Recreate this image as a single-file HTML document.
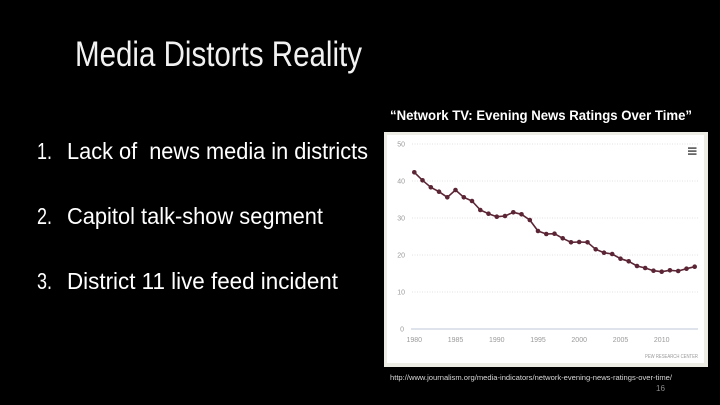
<!DOCTYPE html>
<html>
<head>
<meta charset="utf-8">
<style>
html,body{margin:0;padding:0;background:#000;}
body{width:720px;height:405px;overflow:hidden;}
svg{display:block;}
text{font-family:"Liberation Sans",Arial,sans-serif;}
</style>
</head>
<body>
<svg width="720" height="405" viewBox="0 0 720 405" xmlns="http://www.w3.org/2000/svg">
  <rect x="0" y="0" width="720" height="405" fill="#000"/>
  <!-- Title -->
  <text x="75" y="66" font-size="35" fill="#f2f2f2" textLength="287" lengthAdjust="spacingAndGlyphs">Media Distorts Reality</text>

  <!-- List -->
  <g font-size="23" fill="#ffffff">
    <text x="37" y="159" textLength="15" lengthAdjust="spacingAndGlyphs">1.</text>
    <text x="67" y="159" textLength="301" lengthAdjust="spacingAndGlyphs" style="white-space:pre">Lack of  news media in districts</text>
    <text x="37" y="224" textLength="15" lengthAdjust="spacingAndGlyphs">2.</text>
    <text x="67" y="224" textLength="256" lengthAdjust="spacingAndGlyphs">Capitol talk-show segment</text>
    <text x="37" y="289" textLength="15" lengthAdjust="spacingAndGlyphs">3.</text>
    <text x="67" y="289" textLength="271" lengthAdjust="spacingAndGlyphs">District 11 live feed incident</text>
  </g>

  <!-- Chart title -->
  <text x="390" y="120" font-size="13.5" font-weight="bold" fill="#ffffff" textLength="302" lengthAdjust="spacingAndGlyphs">“Network TV: Evening News Ratings Over Time”</text>

  <!-- Chart frame -->
  <rect x="384" y="132" width="324" height="235" fill="#edece5"/>
  <rect x="387" y="135" width="317" height="228" fill="#ffffff"/>

  <!-- Gridlines -->
  <g stroke="#e2e2e2" stroke-width="1" stroke-dasharray="1,1.5">
    <line x1="412" y1="144" x2="698" y2="144"/>
    <line x1="412" y1="181" x2="698" y2="181"/>
    <line x1="412" y1="218" x2="698" y2="218"/>
    <line x1="412" y1="255" x2="698" y2="255"/>
    <line x1="412" y1="292" x2="698" y2="292"/>
  </g>
  <line x1="411" y1="329" x2="698" y2="329" stroke="#ccd3e0" stroke-width="1.2"/>

  <!-- Y labels -->
  <g font-size="7" fill="#9a9a9a" text-anchor="end">
    <text x="405" y="146.5">50</text>
    <text x="405" y="183.5">40</text>
    <text x="405" y="220.5">30</text>
    <text x="405" y="257.5">20</text>
    <text x="405" y="294.5">10</text>
    <text x="404" y="331.5">0</text>
  </g>
  <!-- X labels -->
  <g font-size="7" fill="#9a9a9a" text-anchor="middle">
    <text x="414.3" y="342">1980</text>
    <text x="455.5" y="342">1985</text>
    <text x="496.8" y="342">1990</text>
    <text x="538" y="342">1995</text>
    <text x="579.2" y="342">2000</text>
    <text x="620.5" y="342">2005</text>
    <text x="661.7" y="342">2010</text>
  </g>

  <!-- Hamburger -->
  <g fill="#555">
    <rect x="688" y="147.3" width="8.5" height="1.6"/>
    <rect x="688" y="150.3" width="8.5" height="1.6"/>
    <rect x="688" y="153.3" width="8.5" height="1.6"/>
  </g>

  <text x="698" y="358" font-size="5.5" fill="#9a9a9a" text-anchor="end" textLength="53" lengthAdjust="spacingAndGlyphs">PEW RESEARCH CENTER</text>

  <!-- Series -->
  <polyline fill="none" stroke="#5b2535" stroke-width="1.6" stroke-linejoin="round"
    points="414.3,172.3 422.5,180.3 430.8,187.3 439.0,191.7 447.3,197.3 455.5,190 463.8,197.3 472.0,201 480.3,210 488.5,213.7 496.8,216.7 505.0,216 513.3,212.3 521.5,214.3 529.8,220 538.0,231 546.3,234 554.5,233.7 562.7,238.3 571.0,242.3 579.2,242 587.5,242.3 595.7,249.3 604.0,252.7 612.2,254 620.5,258.7 628.7,261.3 637.0,266 645.2,268 653.5,270.7 661.7,271.7 669.9,270.3 678.2,271 686.5,268.7 694.7,266.7"/>
  <g fill="#5b2535">
    <circle cx="414.3" cy="172.3" r="2.3"/>
    <circle cx="422.5" cy="180.3" r="2.3"/>
    <circle cx="430.8" cy="187.3" r="2.3"/>
    <circle cx="439.0" cy="191.7" r="2.3"/>
    <circle cx="447.3" cy="197.3" r="2.3"/>
    <circle cx="455.5" cy="190" r="2.3"/>
    <circle cx="463.8" cy="197.3" r="2.3"/>
    <circle cx="472.0" cy="201" r="2.3"/>
    <circle cx="480.3" cy="210" r="2.3"/>
    <circle cx="488.5" cy="213.7" r="2.3"/>
    <circle cx="496.8" cy="216.7" r="2.3"/>
    <circle cx="505.0" cy="216" r="2.3"/>
    <circle cx="513.3" cy="212.3" r="2.3"/>
    <circle cx="521.5" cy="214.3" r="2.3"/>
    <circle cx="529.8" cy="220" r="2.3"/>
    <circle cx="538.0" cy="231" r="2.3"/>
    <circle cx="546.3" cy="234" r="2.3"/>
    <circle cx="554.5" cy="233.7" r="2.3"/>
    <circle cx="562.7" cy="238.3" r="2.3"/>
    <circle cx="571.0" cy="242.3" r="2.3"/>
    <circle cx="579.2" cy="242" r="2.3"/>
    <circle cx="587.5" cy="242.3" r="2.3"/>
    <circle cx="595.7" cy="249.3" r="2.3"/>
    <circle cx="604.0" cy="252.7" r="2.3"/>
    <circle cx="612.2" cy="254" r="2.3"/>
    <circle cx="620.5" cy="258.7" r="2.3"/>
    <circle cx="628.7" cy="261.3" r="2.3"/>
    <circle cx="637.0" cy="266" r="2.3"/>
    <circle cx="645.2" cy="268" r="2.3"/>
    <circle cx="653.5" cy="270.7" r="2.3"/>
    <circle cx="661.7" cy="271.7" r="2.3"/>
    <circle cx="669.9" cy="270.3" r="2.3"/>
    <circle cx="678.2" cy="271" r="2.3"/>
    <circle cx="686.5" cy="268.7" r="2.3"/>
    <circle cx="694.7" cy="266.7" r="2.3"/>
  </g>

  <!-- URL & page number -->
  <text x="390" y="380" font-size="7.5" fill="#d8d8d8" textLength="282" lengthAdjust="spacingAndGlyphs">http://www.journalism.org/media-indicators/network-evening-news-ratings-over-time/</text>
  <text x="656" y="391" font-size="8" fill="#8a8a8a" textLength="9" lengthAdjust="spacingAndGlyphs">16</text>
</svg>
</body>
</html>
